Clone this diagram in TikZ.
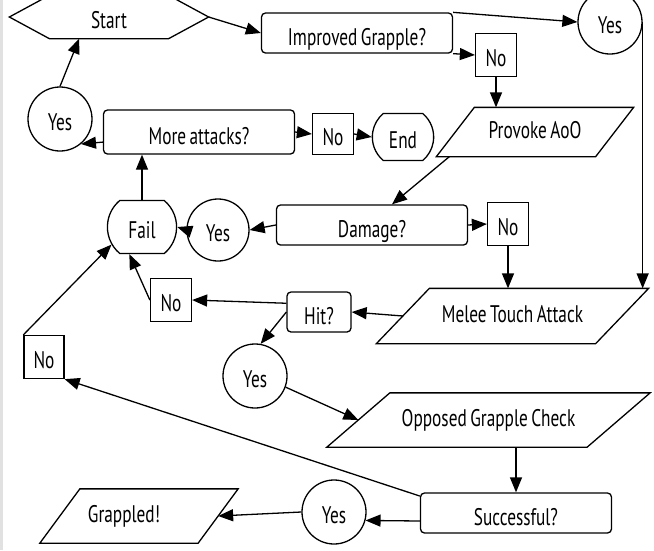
\documentclass[tikz,border=0pt]{standalone}
\usepackage{fontspec}
\setmainfont[FakeStretch=0.72,WordSpace=0.75]{PT Sans}
\usepackage{tikz}
\usetikzlibrary{positioning,arrows.meta,shapes.geometric,shapes.misc}
\definecolor{edgegray}{RGB}{225,225,225}
\newcommand{\slantbox}[2]{\draw[line width=1.3pt] ([xshift=#2]#1.north west) -- ([xshift=#2]#1.north east)
  -- ([xshift=-#2]#1.south east) -- ([xshift=-#2]#1.south west) -- cycle;}
\tikzset{
  base/.style  ={draw=black, line width=1.3pt, font=\fontsize{24}{26}\selectfont,
                 inner sep=0pt, text height=22pt, text depth=0pt},
  quest/.style ={base, rectangle, rounded corners=4pt, minimum width=191pt,
                 minimum height=40pt, text height=25pt},
  io/.style    ={base, draw=none, rectangle, text height=12pt},
  yesc/.style  ={base, circle, minimum size=64pt},
  nobox/.style ={base, rectangle, minimum width=41pt, minimum height=43pt},
  term/.style  ={base, rounded rectangle, rounded rectangle arc length=100,
                 minimum width=60pt, minimum height=50pt},
  hexa/.style  ={base, draw=none, rectangle, minimum width=198pt, minimum height=42pt},
  flow/.style  ={-{Triangle[length=15pt,width=12pt]}, line width=1.3pt},
}

\begin{document}
\begin{tikzpicture}[x=1pt,y=-1pt]
\useasboundingbox (0,0) rectangle (654,550);
\clip (0,0) rectangle (654,550);
\fill[edgegray] (0,0) rectangle (3,550);
% top row
\node[hexa] (start) at (109,17) {Start};
\draw[line width=1.3pt] (start.west) -- ([xshift=40pt]start.north west)
  -- ([xshift=-40pt]start.north east) -- (start.east)
  -- ([xshift=-40pt]start.south east) -- ([xshift=40pt]start.south west) -- cycle;
\node[quest] (impr) at (357,33) {Improved Grapple?};
\node[yesc] (yA) at (610,22) {Yes};
\node[nobox] (nA) at (496,55) {No};
\node[io, minimum width=158pt, minimum height=48pt] (aoo) at (535,132) {Provoke AoO};
\slantbox{aoo}{19pt}
% second row
\node[yesc] (yE) at (60,119) {Yes};
\node[quest, minimum height=44pt] (more) at (199,132) {More attacks?};
\node[nobox, minimum height=41pt] (nE) at (333,134) {No};
\node[term, minimum height=47pt] (end) at (403,137) {End};
% damage row
\node[term, minimum height=53pt] (fail) at (142,227) {Fail};
\node[yesc, minimum size=62pt] (yB) at (218,230) {Yes};
\node[quest] (dmg) at (372,225) {Damage?};
\node[nobox] (nB) at (508,224) {No};
% hit row
\node[nobox] (nC) at (171,300) {No};
\node[quest, minimum width=64pt] (hit) at (319,312) {Hit?};
\node[io, minimum width=218pt, minimum height=54pt] (melee) at (512.5,316) {Melee Touch Attack};
\slantbox{melee}{26.5pt}
\node[nobox, minimum width=40pt] (nD) at (44,357) {No};
\node[yesc] (yC) at (255,376) {Yes};
\node[io, minimum width=259pt, minimum height=53pt] (opp) at (488.5,420) {Opposed Grapple Check};
\slantbox{opp}{31.5pt}
% bottom row
\node[io, minimum width=157pt, minimum height=53pt] (grap) at (139,516) {Grappled!\hspace*{30pt}};
\slantbox{grap}{20pt}
\node[yesc] (yD) at (334,512) {Yes};
\node[quest] (succ) at (516,513) {Successful?};

% connectors
\draw[flow] (start.east) -- (impr.west);
\draw[flow] (impr.north east) -- (yA.west);
\draw[flow] (impr.south east) -- (nA.west);
\draw[flow] (nA.south) -- (nA.south |- aoo.north);
\draw[flow] ([xshift=-6pt]aoo.south west) -- ([xshift=20pt]dmg.north);
\draw[flow] (dmg.east) -- (nB.west);
\draw[flow] (nB.south) -- (nB.south |- melee.north);
\draw[flow] (yA.east) -- (yA.east |- melee.north);
\draw[flow] (melee.west) -- (hit.east);
\draw[flow] (hit.165) -- (nC.east);
\draw[flow] (hit.west) -- (yC.80);
\draw[flow] (nC.west) -- (fail.245);
\draw[flow] (yC.-20) -- (opp.west);
\draw[flow] (succ.north |- opp.south) -- (succ.north);
\draw[flow] ([yshift=-8pt]succ.west) -- (yD.-15);
\draw[flow] (yD.west) -- (grap.east);
\draw[flow] (succ.170) -- (nD.south east);
\draw[flow] (nD.north west) -- (fail.210);
\draw[flow] (dmg.west) -- (yB.east);
\draw[flow] (yB.west) -- (fail.east);
\draw[flow] (fail.north) -- (fail.north |- more.south);
\draw[flow] (more.east) -- (nE.west);
\draw[flow] (nE.east) -- (end.west);
\draw[flow] (more.186) -- (yE.-50);
\draw[flow] (yE.north) -- (start.216);
\end{tikzpicture}
\end{document}
